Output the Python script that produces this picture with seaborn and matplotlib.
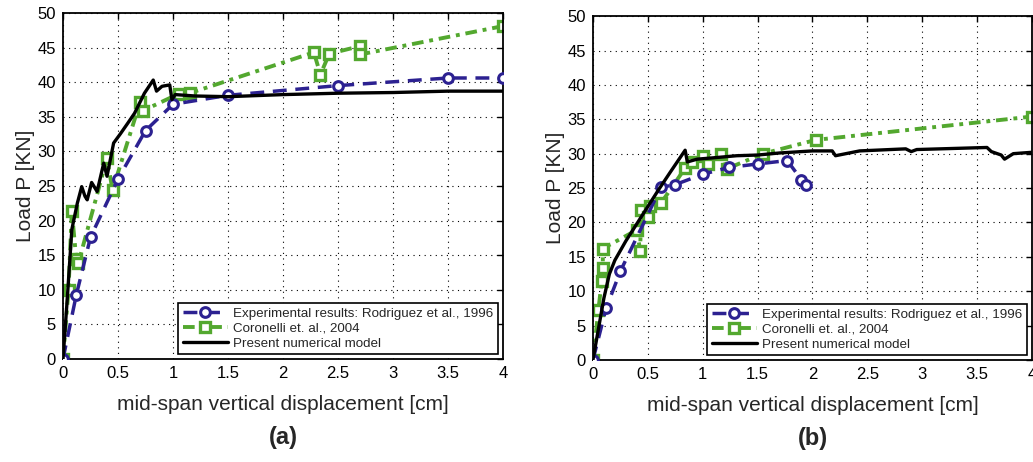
import matplotlib
matplotlib.use("Agg")
import matplotlib.pyplot as plt
import seaborn as sns

# panel (a) - experimental results, Rodriguez et al. 1996
exp_a_x = [0, 0.12, 0.25, 0.5, 0.75, 1.0, 1.5, 2.5, 3.5, 4.0]
exp_a_y = [0, 9.2, 17.6, 26.0, 33.0, 36.8, 38.1, 39.5, 40.6, 40.6]
# panel (a) - Coronelli et al. 2004
cor_a_x = [0, 0.05, 0.08, 0.12, 0.14, 0.4, 0.45, 0.7, 0.73, 1.05, 1.15, 2.28, 2.34, 2.42, 2.7, 2.7, 4.0]
cor_a_y = [0, 10.0, 21.4, 14.5, 13.9, 29.0, 24.4, 37.1, 35.9, 38.3, 38.4, 44.3, 41.1, 44.1, 45.2, 44.0, 48.1]
# panel (a) - present numerical model
num_a_x = [0, 0.04, 0.08, 0.13, 0.17, 0.2, 0.22, 0.26, 0.31, 0.37, 0.40, 0.46, 0.52, 0.59, 0.65,
           0.74, 0.82, 0.85, 0.9, 0.97, 0.99, 1.02, 1.2, 1.5, 2.0, 2.5, 3.0, 3.5, 4.0]
num_a_y = [0, 9.0, 18.7, 22.5, 24.9, 23.5, 23.0, 25.5, 24.2, 28.3, 26.4, 31.2, 32.5, 34.1, 35.5,
           38.4, 40.3, 38.7, 39.4, 39.6, 37.5, 38.2, 38.0, 37.9, 38.2, 38.4, 38.5, 38.7, 38.7]

# panel (b)
exp_b_x = [0, 0.12, 0.25, 0.62, 0.75, 1.0, 1.24, 1.5, 1.77, 1.9, 1.94]
exp_b_y = [0, 7.5, 12.9, 25.1, 25.5, 27.0, 28.0, 28.5, 29.0, 26.2, 25.5]
cor_b_x = [0, 0.05, 0.08, 0.09, 0.09, 0.40, 0.43, 0.44, 0.5, 0.52, 0.62, 0.84, 0.9, 1.0, 1.05,
           1.17, 1.22, 1.55, 2.03, 4.0]
cor_b_y = [0, 7.3, 11.5, 13.3, 16.2, 18.9, 15.9, 21.8, 20.8, 22.4, 22.8, 27.9, 28.8, 29.7, 28.5,
           30.0, 27.8, 30.0, 32.0, 35.4]
num_b_x = [0, 0.05, 0.1, 0.15, 0.2, 0.3, 0.4, 0.5, 0.6, 0.7, 0.84, 0.86, 0.95, 1.1, 1.31, 1.5,
           1.7, 2.0, 2.18, 2.21, 2.43, 2.85, 2.9, 2.95, 3.59, 3.63, 3.72, 3.75, 3.83, 4.0]
num_b_y = [0, 4.5, 9.0, 12.5, 14.5, 17.3, 19.8, 22.3, 24.8, 27.2, 30.5, 28.8, 29.2, 29.4, 29.7, 29.8,
           30.1, 30.4, 30.4, 29.7, 30.4, 30.7, 30.3, 30.6, 30.9, 30.3, 29.8, 29.2, 30.0, 30.2]

x_ticks = [0, 0.5, 1, 1.5, 2, 2.5, 3, 3.5, 4]
x_tick_labels = ["0", "0.5", "1", "1.5", "2", "2.5", "3", "3.5", "4"]
y_ticks = [0, 5, 10, 15, 20, 25, 30, 35, 40, 45, 50]

label_exp = "Experimental results: Rodriguez et al., 1996"
label_cor = "Coronelli et. al., 2004"
label_num = "Present numerical model"

BLUE = "#2c2191"
GREEN = "#53a82f"

sns.set_style("white")
plt.rcParams["font.family"] = ["Liberation Sans", "DejaVu Sans"]

fig = plt.figure(figsize=(10.33, 4.62), dpi=100)
ax_a = fig.add_axes([0.061, 0.223, 0.426, 0.749])
ax_b = fig.add_axes([0.574, 0.221, 0.425, 0.744])

panels = [
    (ax_a, exp_a_x, exp_a_y, cor_a_x, cor_a_y, num_a_x, num_a_y, "(a)"),
    (ax_b, exp_b_x, exp_b_y, cor_b_x, cor_b_y, num_b_x, num_b_y, "(b)"),
]

for ax, ex, ey, cx, cy, nx, ny, tag in panels:
    sns.lineplot(x=ex, y=ey, ax=ax, sort=False, estimator=None, color=BLUE,
                 linestyle=(0, (4, 2.5)), linewidth=2.5, marker="o", markersize=7,
                 markerfacecolor="white", markeredgecolor=BLUE, markeredgewidth=2.2,
                 label=label_exp, zorder=3)
    sns.lineplot(x=cx, y=cy, ax=ax, sort=False, estimator=None, color=GREEN,
                 linestyle=(0, (3, 1.5, 1, 1.5)), linewidth=2.8, marker="s", markersize=6.5,
                 markerfacecolor="white", markeredgecolor=GREEN, markeredgewidth=2.4,
                 label=label_cor, zorder=2)
    sns.lineplot(x=nx, y=ny, ax=ax, sort=False, estimator=None, color="black",
                 linewidth=2.4, label=label_num, zorder=4)

    ax.set_xlim(0, 4)
    ax.set_ylim(0, 50)
    ax.set_xticks(x_ticks)
    ax.set_xticklabels(x_tick_labels)
    ax.set_yticks(y_ticks)
    ax.tick_params(direction="in", length=4, width=1, top=True, right=True,
                   labelsize=12, colors="black", pad=5)
    ax.grid(True, linestyle=(0, (1, 4)), color="black", linewidth=0.8)
    for sp in ax.spines.values():
        sp.set_color("black")
        sp.set_linewidth(1.3)
    ax.set_xlabel("mid-span vertical displacement [cm]", fontsize=15, labelpad=10)
    ax.set_ylabel("Load P [KN]", fontsize=15, labelpad=2)
    ax.text(0.5, -0.228, tag, transform=ax.transAxes, ha="center", va="center",
            fontsize=17, fontweight="bold")

    leg = ax.legend(loc="lower right", fontsize=9.6, frameon=True, fancybox=False,
                    framealpha=1, edgecolor="black", borderpad=0.35, labelspacing=0.2,
                    handlelength=3.4, handletextpad=0.4, borderaxespad=0.35)
    leg.get_frame().set_linewidth(1.2)

fig.savefig("out.png", dpi=100)
